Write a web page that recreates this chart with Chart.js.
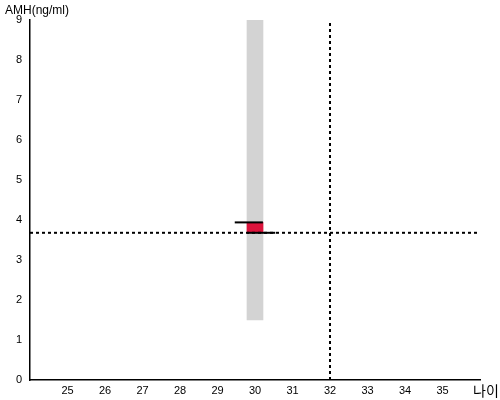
<!DOCTYPE html>
<html>
<head>
<meta charset="utf-8">
<script src="https://cdn.jsdelivr.net/npm/chart.js@4"></script>
<style>
  html, body { margin: 0; padding: 0; background: #fff; }
  #wrap { width: 500px; height: 400px; }
</style>
</head>
<body>
<div id="wrap"><canvas id="amh-chart"></canvas></div>
<script>
// data
var ageTicks = [25, 26, 27, 28, 29, 30, 31, 32, 33, 34, 35];
var bandAge = 30;
var bandRange = [1.5, 9];
var boxRange = [3.68, 3.94];
var upperLineX = [29.46, 30.21];
var upperLineY = 3.94;
var lowerLineX = [29.79, 30.54];
var lowerLineY = 3.68;
var refAmh = 3.68;
var refAge = 32;

// axis titles drawn at the corners
var cornerTitles = {
  id: 'cornerTitles',
  afterDraw: function (chart) {
    var ctx = chart.ctx;
    ctx.save();
    ctx.fillStyle = '#000';
    ctx.textBaseline = 'middle';
    ctx.textAlign = 'left';
    ctx.font = '12px "Liberation Sans", Arial, sans-serif';
    ctx.fillText('AMH(ng/ml)', 5, 11);
    ctx.font = '14px "Noto Sans CJK KR", sans-serif';
    ctx.fillText('나이', 473, 391);
    ctx.restore();
  }
};

new Chart(document.getElementById('amh-chart'), {
  type: 'bar',
  data: {
    datasets: [{
      type: 'bar',
      data: [{ x: bandAge, y: bandRange }],
      backgroundColor: '#d3d3d3',
      barThickness: 16,
      grouped: false,
      order: 5
    }, {
      type: 'bar',
      data: [{ x: bandAge, y: boxRange }],
      backgroundColor: '#dc143c',
      barThickness: 16,
      grouped: false,
      order: 4
    }, {
      type: 'line',
      data: [{ x: upperLineX[0], y: upperLineY }, { x: upperLineX[1], y: upperLineY }],
      borderColor: '#000',
      borderWidth: 2,
      pointRadius: 0,
      order: 3
    }, {
      type: 'line',
      data: [{ x: lowerLineX[0], y: lowerLineY }, { x: lowerLineX[1], y: lowerLineY }],
      borderColor: '#000',
      borderWidth: 2,
      pointRadius: 0,
      order: 3
    }, {
      type: 'line',
      data: [{ x: 24, y: refAmh }, { x: 36, y: refAmh }],
      borderColor: '#000',
      borderWidth: 2,
      borderDash: [3, 3],
      pointRadius: 0,
      order: 2
    }, {
      type: 'line',
      data: [{ x: refAge, y: 0 }, { x: refAge, y: 9 }],
      borderColor: '#000',
      borderWidth: 2,
      borderDash: [3, 3],
      pointRadius: 0,
      order: 2
    }]
  },
  options: {
    responsive: true,
    maintainAspectRatio: false,
    animation: false,
    layout: { padding: { top: 20, right: 20, left: 0, bottom: 0 } },
    plugins: {
      legend: { display: false },
      tooltip: { enabled: false }
    },
    scales: {
      x: {
        type: 'linear',
        min: 24,
        max: 36,
        offset: false,
        grid: { display: false, drawTicks: false },
        border: { color: '#000', width: 1.5 },
        afterBuildTicks: function (scale) {
          scale.ticks = ageTicks.map(function (v) { return { value: v }; });
        },
        afterFit: function (scale) { scale.height = 20; },
        ticks: {
          color: '#000',
          padding: 4,
          font: { family: '"Liberation Sans", Arial, sans-serif', size: 11 }
        }
      },
      y: {
        min: 0,
        max: 9,
        grid: { display: false, drawTicks: false },
        border: { color: '#000', width: 1.5 },
        afterFit: function (scale) { scale.width = 30; },
        ticks: {
          stepSize: 1,
          color: '#000',
          padding: 8,
          font: { family: '"Liberation Sans", Arial, sans-serif', size: 11 }
        }
      }
    }
  },
  plugins: [cornerTitles]
});
</script>
</body>
</html>
